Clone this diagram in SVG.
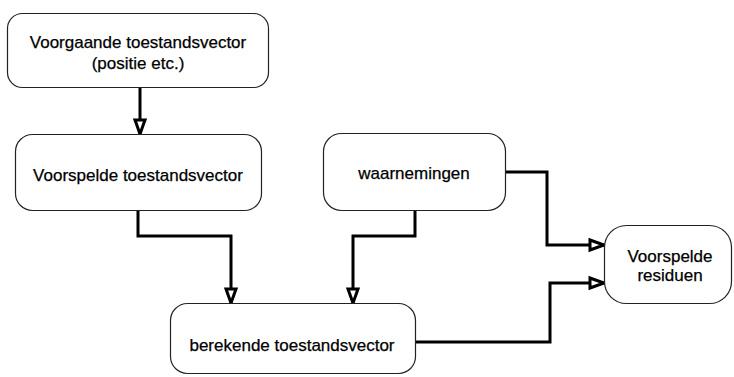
<svg xmlns="http://www.w3.org/2000/svg" width="734" height="377" viewBox="0 0 734 377">
<style>
.box{fill:#fff;stroke:#222;stroke-width:1.2}
.t{font-family:"Liberation Sans",Arial,sans-serif;font-size:17px;fill:#000;text-anchor:middle;stroke:#000;stroke-width:0.25}
.c{fill:none;stroke:#000;stroke-width:3;stroke-linejoin:miter}
</style>
<defs>
<marker id="ah" markerUnits="userSpaceOnUse" markerWidth="20" markerHeight="16" refX="15" refY="6" orient="auto" viewBox="-2 -2 20 16">
<path d="M1,1 L15,6 L1,11 Z" fill="#fff" stroke="#000" stroke-width="3" stroke-linejoin="miter"/>
</marker>
</defs>
<rect width="734" height="377" fill="#fff"/>
<g id="connectors">
<path class="c" d="M140,88 V134" marker-end="url(#ah)"/>
<path class="c" d="M138,211 V236 H231 V303" marker-end="url(#ah)"/>
<path class="c" d="M415,211 V236 H353 V303" marker-end="url(#ah)"/>
<path class="c" d="M505,172 H547 V245 H604" marker-end="url(#ah)"/>
<path class="c" d="M415,342 H550 V283 H604" marker-end="url(#ah)"/>
</g>
<g id="n1">
<rect class="box" x="7.5" y="13.5" width="261" height="74" rx="15"/>
<text class="t" x="138" y="48">Voorgaande toestandsvector</text>
<text class="t" x="138" y="69">(positie etc.)</text>
</g>
<g id="n2">
<rect class="box" x="15.5" y="134.5" width="246" height="76" rx="17"/>
<text class="t" x="138" y="181">Voorspelde toestandsvector</text>
</g>
<g id="n3">
<rect class="box" x="323.5" y="133.5" width="182" height="77" rx="18"/>
<text class="t" x="414" y="179">waarnemingen</text>
</g>
<g id="n4">
<rect class="box" x="170.5" y="303.5" width="245" height="70" rx="17"/>
<text class="t" x="292" y="351">berekende toestandsvector</text>
</g>
<g id="n5">
<rect class="box" x="604.5" y="225.5" width="127" height="78" rx="22"/>
<text class="t" x="670" y="262">Voorspelde</text>
<text class="t" x="670" y="281">residuen</text>
</g>
</svg>
